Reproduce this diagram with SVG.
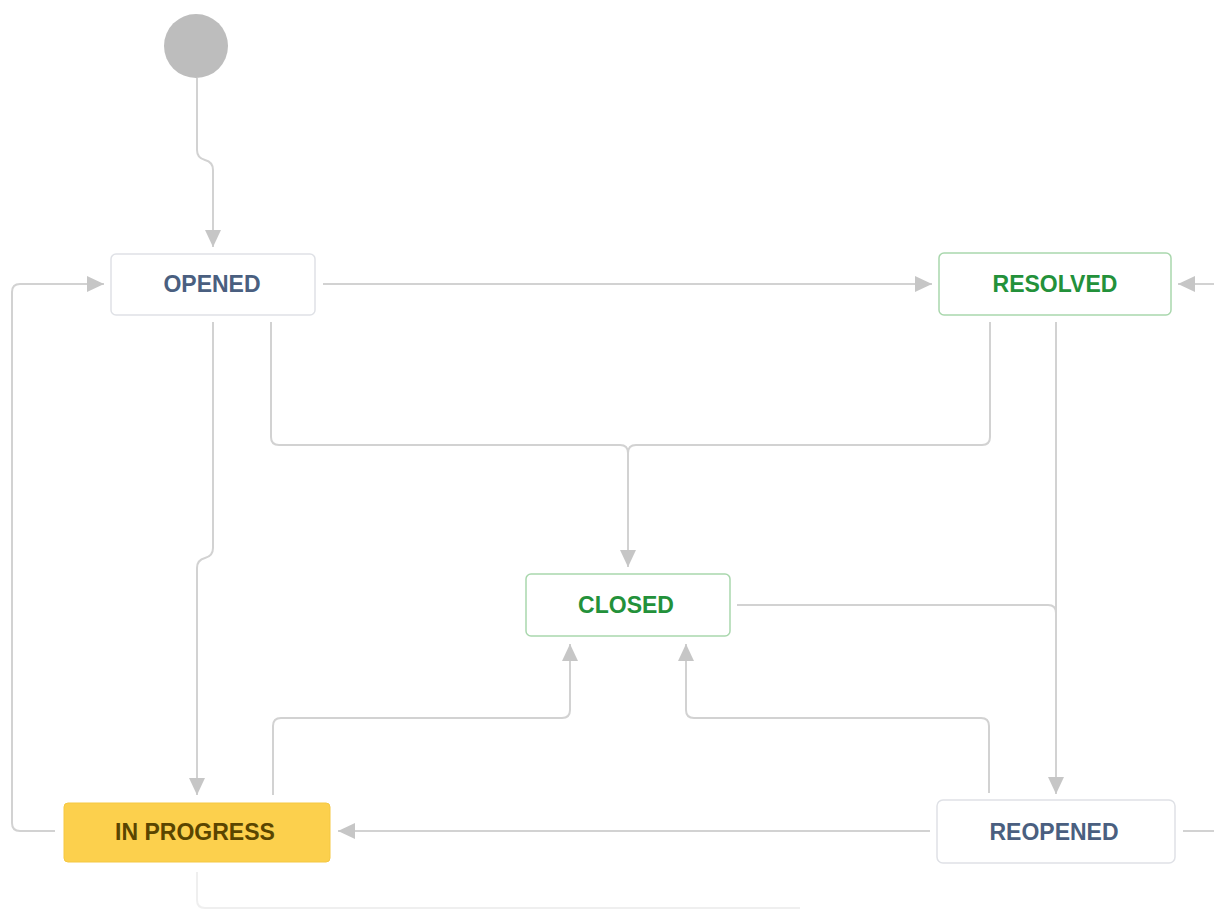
<svg xmlns="http://www.w3.org/2000/svg" width="1214" height="909" viewBox="0 0 1214 909">
<style>
.bg{fill:#ffffff}
.edge{fill:none;stroke:#d2d2d2;stroke-width:2}
.node{fill:#ffffff;stroke:#dfe1e6;stroke-width:1.5}
.done{fill:#ffffff;stroke:#a9d7ad;stroke-width:1.5}
.prog{fill:#fcd04d;stroke:#f5c842;stroke-width:1}
.lbl{font-family:"Liberation Sans",Arial,sans-serif;font-weight:bold;font-size:23px;text-anchor:middle}
.blue{fill:#4a5f80}
.green{fill:#23913a}
.brown{fill:#5a4500}
</style>
<defs>
<marker id="arr" markerUnits="userSpaceOnUse" markerWidth="18" markerHeight="18" refX="17" refY="8" orient="auto">
<path d="M0,0 L17,8 L0,16 z" fill="#c6c6c6"/>
</marker>
</defs>
<rect class="bg" x="0" y="0" width="1214" height="909"/>
<g id="connectors">
<path class="edge" marker-end="url(#arr)" d="M197,78 V150 Q197,158 205,160 Q213,162 213,170 V247"/>
<path class="edge" marker-end="url(#arr)" d="M323,284 H932"/>
<path class="edge" marker-end="url(#arr)" d="M1214,284 H1178"/>
<path class="edge" marker-end="url(#arr)" d="M271,322 V437 Q271,445 279,445 H620 Q628,445 628,453 V567"/>
<path class="edge" d="M990,322 V437 Q990,445 982,445 H636 Q628,445 628,453"/>
<path class="edge" marker-end="url(#arr)" d="M213,322 V548 Q213,556 205,558 Q197,560 197,568 V795"/>
<path class="edge" marker-end="url(#arr)" d="M55,831 H20 Q12,831 12,823 V292 Q12,284 20,284 H104"/>
<path class="edge" marker-end="url(#arr)" d="M273,795 V726 Q273,718 281,718 H562 Q570,718 570,710 V644"/>
<path class="edge" marker-end="url(#arr)" d="M989,793 V726 Q989,718 981,718 H694 Q686,718 686,710 V644"/>
<path class="edge" d="M737,605 H1048 Q1056,605 1056,613"/>
<path class="edge" marker-end="url(#arr)" d="M1056,322 V794"/>
<path class="edge" marker-end="url(#arr)" d="M930,831 H338"/>
<path class="edge" d="M1183,831 H1214"/>
<path class="edge" d="M197,872 V900 Q197,908 205,908 H800" stroke-opacity="0.35"/>
</g>
<g id="start">
<circle cx="196" cy="46" r="32" fill="#bdbdbd"/>
</g>
<g id="opened">
<rect class="node" x="111" y="254" width="204" height="61" rx="5"/>
<text class="lbl blue" x="212" y="292">OPENED</text>
</g>
<g id="resolved">
<rect class="done" x="939" y="253" width="232" height="62" rx="5"/>
<text class="lbl green" x="1055" y="292">RESOLVED</text>
</g>
<g id="closed">
<rect class="done" x="526" y="574" width="204" height="62" rx="5"/>
<text class="lbl green" x="626" y="613">CLOSED</text>
</g>
<g id="inprogress">
<rect class="prog" x="64" y="803" width="266" height="59" rx="4"/>
<text class="lbl brown" x="195" y="840">IN PROGRESS</text>
</g>
<g id="reopened">
<rect class="node" x="937" y="800" width="238" height="63" rx="6"/>
<text class="lbl blue" x="1054" y="840">REOPENED</text>
</g>
</svg>
